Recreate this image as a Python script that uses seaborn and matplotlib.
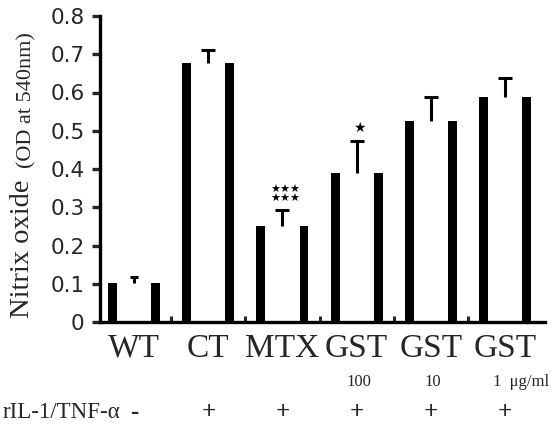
import matplotlib
matplotlib.use("Agg")
import matplotlib.pyplot as plt
import matplotlib.transforms as mtransforms
import seaborn as sns
import pandas as pd
import numpy as np

# ---- data ----
groups = ["WT", "CT", "MTX", "GST 100", "GST 10", "GST 1"]
tick_labels = ["WT", "CT", "MTX", "GST", "GST", "GST"]
values = [0.103, 0.676, 0.251, 0.390, 0.526, 0.589]
errors = [0.015, 0.035, 0.042, 0.084, 0.061, 0.050]
doses = ["", "", "", "100", "10", "1  \u03bcg/ml"]
stimulus = ["-", "+", "+", "+", "+", "+"]
significance = ["", "", "\u2605\u2605\u2605\n\u2605\u2605\u2605", "\u2605", "", ""]
yticks = [0, 0.1, 0.2, 0.3, 0.4, 0.5, 0.6, 0.7, 0.8]
ytick_labels = ["0", "0.1", "0.2", "0.3", "0.4", "0.5", "0.6", "0.7", "0.8"]

df = pd.DataFrame({"group": groups, "value": values})

sns.set_style("ticks")
plt.rcParams["font.family"] = ["DejaVu Sans"]
SERIF = ["Liberation Serif", "DejaVu Serif"]

W, H = 557, 428
fig = plt.figure(figsize=(W / 100, H / 100), dpi=100)
ax = fig.add_axes([100 / W, (H - 322) / H, 445 / W, 306 / H])

# outer black bars, inner white bars -> thick black side walls
sns.barplot(data=df, x="group", y="value", order=groups, color="black",
            width=0.70, saturation=1, errorbar=None, linewidth=0, ax=ax)
sns.barplot(data=df, x="group", y="value", order=groups, color="white",
            width=0.46, saturation=1, errorbar=None, linewidth=0, ax=ax)

xpos = np.arange(len(groups))
capsizes = [3, 4.7, 4.7, 4.7, 4.7, 4.7]
for x, v, e, cs in zip(xpos, values, errors, capsizes):
    cont = ax.errorbar([x], [v], yerr=[[0], [e]], fmt="none", ecolor="black",
                       elinewidth=2.2, capsize=cs, capthick=2.2, zorder=5)
    caplines = cont.lines[1]
    if len(caplines) > 1:
        caplines[0].set_visible(False)

for x, v, e, s in zip(xpos, values, errors, significance):
    if s:
        n_lines = s.count("\n") + 1
        ax.text(x + 0.04, v + e + 0.016, s, ha="center", va="bottom",
                fontsize=8 if n_lines > 1 else 10, linespacing=0.85,
                family=["DejaVu Sans"], color="black")

ax.set_xlim(-0.46, 5.54)
ax.set_ylim(0, 0.8)
ax.set_yticks(yticks)
ax.set_yticklabels(ytick_labels, fontsize=15.5)
ax.set_xticks(xpos)
ax.set_xticklabels(tick_labels, fontsize=24, family=SERIF)
ax.tick_params(axis="x", which="major", length=0, pad=8)
ax.tick_params(axis="y", which="major", length=6, width=2.4, direction="out", pad=5)
ax.set_xticks(xpos[:-1] + 0.5, minor=True)
ax.tick_params(axis="x", which="minor", length=4, width=2.2, direction="in")
ax.set_xlabel("")
ax.set_ylabel("")

for side in ["top", "right"]:
    ax.spines[side].set_visible(False)
for side in ["left", "bottom"]:
    ax.spines[side].set_linewidth(2.4)
    ax.spines[side].set_color("black")

# y-axis label in two sizes
fig.text(35 / W, (H - 318) / H, "Nitrix oxide", rotation=90, ha="right",
         va="bottom", fontsize=20.5, family=SERIF)
fig.text(36 / W, (H - 168) / H, "(OD at 540nm)", rotation=90, ha="right",
         va="bottom", fontsize=16, family=SERIF)

# dose row and stimulus row
trans = mtransforms.blended_transform_factory(ax.transData, ax.transAxes)
for x, d in zip(xpos, doses):
    if d:
        if "g/ml" in d:
            ax.text(x - 0.16, (322 - 382) / 306, d, transform=trans, ha="left",
                    va="center", fontsize=12, family=SERIF)
        else:
            ax.text(x + 0.03, (322 - 382) / 306, d, transform=trans, ha="center",
                    va="center", fontsize=12, family=SERIF)
for x, s in zip(xpos, stimulus):
    ax.text(x, (322 - 413) / 306, s, transform=trans, ha="center", va="center",
            fontsize=18, family=SERIF, fontweight="bold")
fig.text(3 / W, (H - 413) / H, "rIL-1/TNF-\u03b1", ha="left", va="center",
         fontsize=16.5, family=SERIF)

fig.savefig("out.png", dpi=100)
